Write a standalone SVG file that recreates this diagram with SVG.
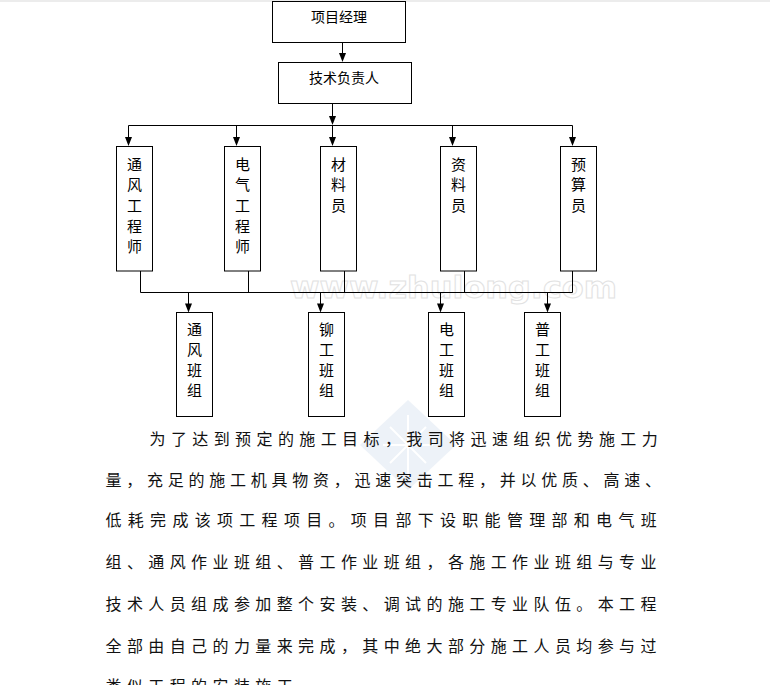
<svg xmlns="http://www.w3.org/2000/svg" width="770" height="685" viewBox="0 0 770 685">
<defs>
<style>
.box{fill:#fff;stroke:#000;stroke-width:1}
.lbl{font-family:"Noto Sans CJK SC","Noto Sans",sans-serif;fill:#000;text-anchor:middle}
.h{font-size:14px}
.v{font-size:15px}
.ln{fill:none;stroke:#000;stroke-width:1}
.ah{fill:#000}
.para{font-family:"Noto Sans CJK SC","Noto Sans",sans-serif;font-size:16px;letter-spacing:5.4px;fill:#111}
.wm{font-family:"DejaVu Sans",sans-serif;font-weight:bold;font-size:30px;fill:#fff;stroke:#e2e2e2;stroke-width:1}
</style>
</defs>
<rect x="0" y="0" width="770" height="685" fill="#fff"/>
<rect x="0" y="0" width="770" height="2" fill="#ececec"/>
<g id="watermark">
<text class="wm" x="290" y="298" textLength="327" lengthAdjust="spacingAndGlyphs">www.zhulong.com</text>
<path d="M408,400 L456,445 L408,490 L360,445 Z" fill="#edf2f8"/>
<path d="M408,415 L408,475 M383,445 L433,445 M390,427 L426,463 M426,427 L390,463" stroke="#fff" stroke-width="2" fill="none"/>
</g>
<g id="connectors">
<path class="ln" d="M342.5,42.5 V53.5"/>
<path class="ah" d="M339,53 L346,53 L342.5,62 Z"/>
<path class="ln" d="M332.5,103.5 V116.5"/>
<path class="ah" d="M329,116 L336,116 L332.5,125 Z"/>
<path class="ln" d="M128.5,125.5 H572.5"/>
<path class="ln" d="M128.5,125.5 V137.5 M236.5,125.5 V137.5 M332.5,125.5 V137.5 M452.5,125.5 V137.5 M572.5,125.5 V137.5"/>
<path class="ah" d="M125,137 L132,137 L128.5,146 Z M233,137 L240,137 L236.5,146 Z M329,137 L336,137 L332.5,146 Z M449,137 L456,137 L452.5,146 Z M569,137 L576,137 L572.5,146 Z"/>
<path class="ln" d="M140.5,271 V292.5 M248.5,271 V292.5 M344.5,271 V292.5 M464.5,271 V292.5 M572.5,271 V292.5"/>
<path class="ln" d="M140.5,292.5 H572.5"/>
<path class="ln" d="M188.5,292.5 V304 M320.5,292.5 V304 M440.5,292.5 V304 M547.5,292.5 V304"/>
<path class="ah" d="M185,303.5 L192,303.5 L188.5,312.5 Z M317,303.5 L324,303.5 L320.5,312.5 Z M437,303.5 L444,303.5 L440.5,312.5 Z M544,303.5 L551,303.5 L547.5,312.5 Z"/>
</g>
<g id="pm">
<rect class="box" x="272.5" y="1.5" width="133" height="41"/>
<text class="lbl h" x="339" y="22">项目经理</text>
</g>
<g id="tech">
<rect class="box" x="278.5" y="62.5" width="133" height="41"/>
<text class="lbl h" x="344" y="83.3">技术负责人</text>
</g>
<g id="vent-eng">
<rect class="box" x="116.5" y="146.5" width="36" height="124.5"/>
<text class="lbl v"><tspan x="134.5" y="169.7">通</tspan><tspan x="134.5" y="190.4">风</tspan><tspan x="134.5" y="211">工</tspan><tspan x="134.5" y="231.7">程</tspan><tspan x="134.5" y="252.4">师</tspan></text>
</g>
<g id="elec-eng">
<rect class="box" x="224.5" y="146.5" width="36" height="124.5"/>
<text class="lbl v"><tspan x="242.5" y="169.7">电</tspan><tspan x="242.5" y="190.4">气</tspan><tspan x="242.5" y="211">工</tspan><tspan x="242.5" y="231.7">程</tspan><tspan x="242.5" y="252.4">师</tspan></text>
</g>
<g id="material">
<rect class="box" x="320.5" y="146.5" width="36" height="124.5"/>
<text class="lbl v"><tspan x="338.5" y="169.7">材</tspan><tspan x="338.5" y="190.4">料</tspan><tspan x="338.5" y="211">员</tspan></text>
</g>
<g id="document">
<rect class="box" x="440.5" y="146.5" width="36" height="124.5"/>
<text class="lbl v"><tspan x="458.5" y="169.7">资</tspan><tspan x="458.5" y="190.4">料</tspan><tspan x="458.5" y="211">员</tspan></text>
</g>
<g id="budget">
<rect class="box" x="560.5" y="146.5" width="36" height="124.5"/>
<text class="lbl v"><tspan x="578.5" y="169.7">预</tspan><tspan x="578.5" y="190.4">算</tspan><tspan x="578.5" y="211">员</tspan></text>
</g>
<g id="vent-team">
<rect class="box" x="176.5" y="312.5" width="36" height="104"/>
<text class="lbl v"><tspan x="194.5" y="334.7">通</tspan><tspan x="194.5" y="355.2">风</tspan><tspan x="194.5" y="375.7">班</tspan><tspan x="194.5" y="396.2">组</tspan></text>
</g>
<g id="rivet-team">
<rect class="box" x="308.5" y="312.5" width="36" height="104"/>
<text class="lbl v"><tspan x="326.5" y="334.7">铆</tspan><tspan x="326.5" y="355.2">工</tspan><tspan x="326.5" y="375.7">班</tspan><tspan x="326.5" y="396.2">组</tspan></text>
</g>
<g id="elec-team">
<rect class="box" x="428.5" y="312.5" width="36" height="104"/>
<text class="lbl v"><tspan x="446.5" y="334.7">电</tspan><tspan x="446.5" y="355.2">工</tspan><tspan x="446.5" y="375.7">班</tspan><tspan x="446.5" y="396.2">组</tspan></text>
</g>
<g id="labor-team">
<rect class="box" x="524.5" y="312.5" width="36" height="104"/>
<text class="lbl v"><tspan x="542.5" y="334.7">普</tspan><tspan x="542.5" y="355.2">工</tspan><tspan x="542.5" y="375.7">班</tspan><tspan x="542.5" y="396.2">组</tspan></text>
</g>
<g id="paragraph" class="para">
<text x="149.5" y="444.8">为了达到预定的施工目标，我司将迅速组织优势施工力</text>
<text x="105.5" y="486" style="letter-spacing:4.75px">量，充足的施工机具物资，迅速突击工程，并以优质、高速、</text>
<text x="105.5" y="525.6" style="letter-spacing:6.3px">低耗完成该项工程项目。项目部下设职能管理部和电气班</text>
<text x="105.5" y="568">组、通风作业班组、普工作业班组，各施工作业班组与专业</text>
<text x="105.5" y="610">技术人员组成参加整个安装、调试的施工专业队伍。本工程</text>
<text x="105.5" y="652">全部由自己的力量来完成，其中绝大部分施工人员均参与过</text>
<text x="105.5" y="692">类似工程的安装施工。</text>
</g>
</svg>
